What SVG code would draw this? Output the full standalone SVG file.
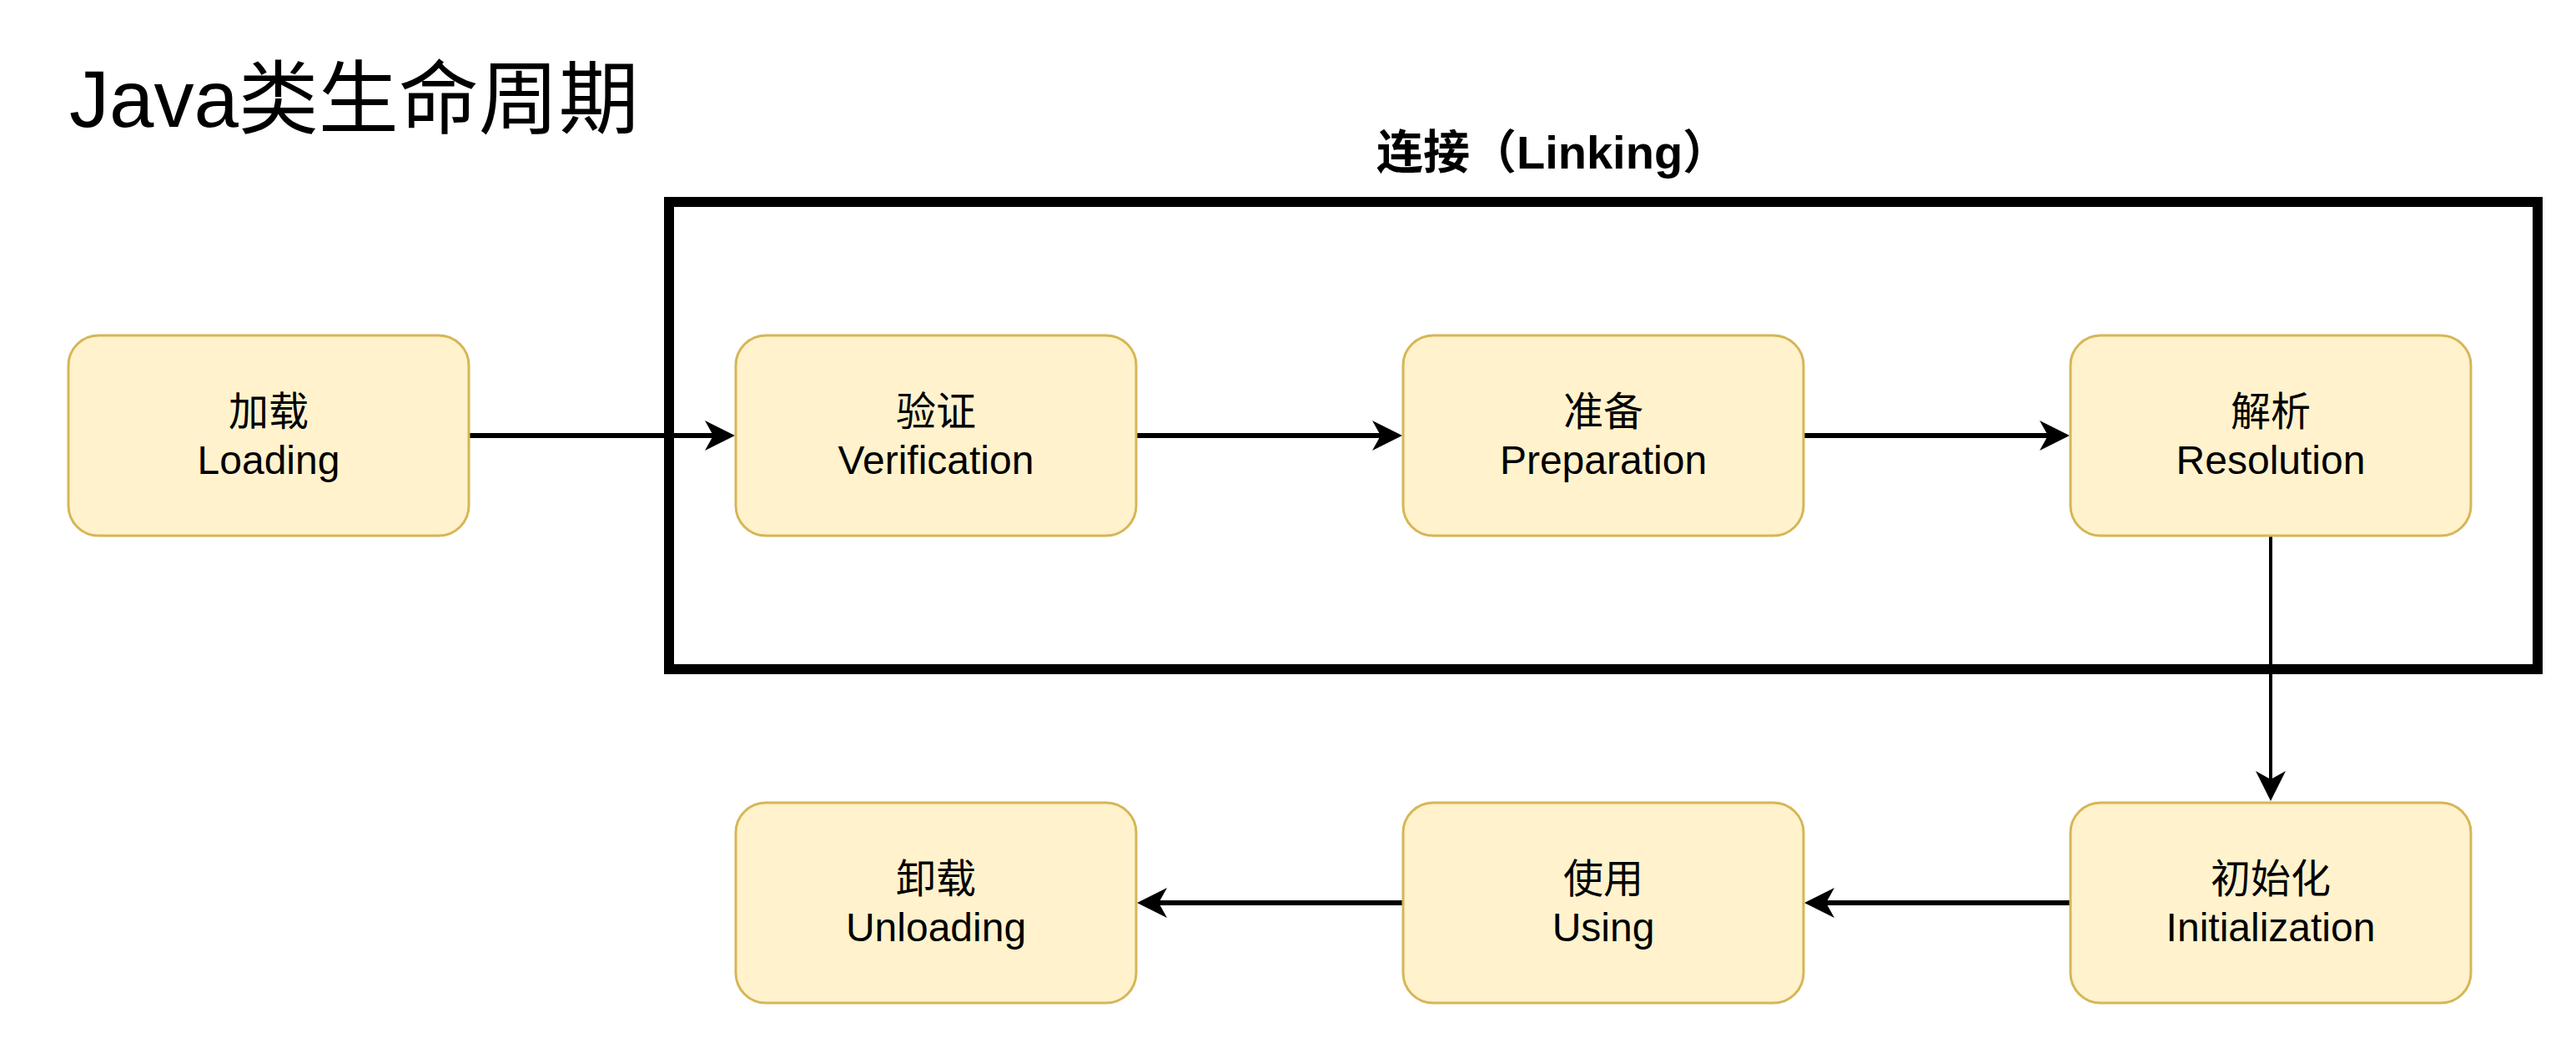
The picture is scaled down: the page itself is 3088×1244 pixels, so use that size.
<svg xmlns="http://www.w3.org/2000/svg" width="3088" height="1244" viewBox="0 0 3088 1244">
<style>
.node rect{fill:#fff2cc;stroke:#d6b656;stroke-width:3}
.lbl{font-family:"Liberation Sans","Noto Sans CJK SC",sans-serif;font-size:48px;fill:#000;text-anchor:middle}
.edge{stroke:#000;fill:none}
.h{stroke-width:6}
.v{stroke-width:4}
</style>
<defs>
<marker id="arr" viewBox="0 0 36 36" refX="10" refY="18" markerWidth="36" markerHeight="36" markerUnits="userSpaceOnUse" orient="auto">
<path d="M0,0 L36,18 L0,36 L10,18 Z" fill="#000"/>
</marker>
</defs>
<rect width="3088" height="1244" fill="#fff"/>
<text x="83" y="152" font-family="Liberation Sans,'Noto Sans CJK SC',sans-serif" font-size="96">Java类生命周期</text>
<g id="linking">
<rect x="802" y="242" width="2240" height="560" fill="none" stroke="#000" stroke-width="12"/>
<text x="1650" y="202" font-family="Liberation Sans,'Noto Sans CJK SC',sans-serif" font-size="56" font-weight="bold">连接（Linking）</text>
</g>
<g id="connectors">
<path class="edge h" d="M562,522 L855,522" marker-end="url(#arr)"/>
<path class="edge h" d="M1362,522 L1655,522" marker-end="url(#arr)"/>
<path class="edge h" d="M2162,522 L2455,522" marker-end="url(#arr)"/>
<path class="edge v" d="M2722,642 L2722,934" marker-end="url(#arr)"/>
<path class="edge h" d="M2482,1082 L2189,1082" marker-end="url(#arr)"/>
<path class="edge h" d="M1682,1082 L1389,1082" marker-end="url(#arr)"/>
</g>
<g id="loading" class="node">
<rect x="82" y="402" width="480" height="240" rx="36"/>
<text class="lbl" x="322" y="510">加载</text>
<text class="lbl" x="322" y="568">Loading</text>
</g>
<g id="verification" class="node">
<rect x="882" y="402" width="480" height="240" rx="36"/>
<text class="lbl" x="1122" y="510">验证</text>
<text class="lbl" x="1122" y="568">Verification</text>
</g>
<g id="preparation" class="node">
<rect x="1682" y="402" width="480" height="240" rx="36"/>
<text class="lbl" x="1922" y="510">准备</text>
<text class="lbl" x="1922" y="568">Preparation</text>
</g>
<g id="resolution" class="node">
<rect x="2482" y="402" width="480" height="240" rx="36"/>
<text class="lbl" x="2722" y="510">解析</text>
<text class="lbl" x="2722" y="568">Resolution</text>
</g>
<g id="initialization" class="node">
<rect x="2482" y="962" width="480" height="240" rx="36"/>
<text class="lbl" x="2722" y="1070">初始化</text>
<text class="lbl" x="2722" y="1128">Initialization</text>
</g>
<g id="using" class="node">
<rect x="1682" y="962" width="480" height="240" rx="36"/>
<text class="lbl" x="1922" y="1070">使用</text>
<text class="lbl" x="1922" y="1128">Using</text>
</g>
<g id="unloading" class="node">
<rect x="882" y="962" width="480" height="240" rx="36"/>
<text class="lbl" x="1122" y="1070">卸载</text>
<text class="lbl" x="1122" y="1128">Unloading</text>
</g>
</svg>
